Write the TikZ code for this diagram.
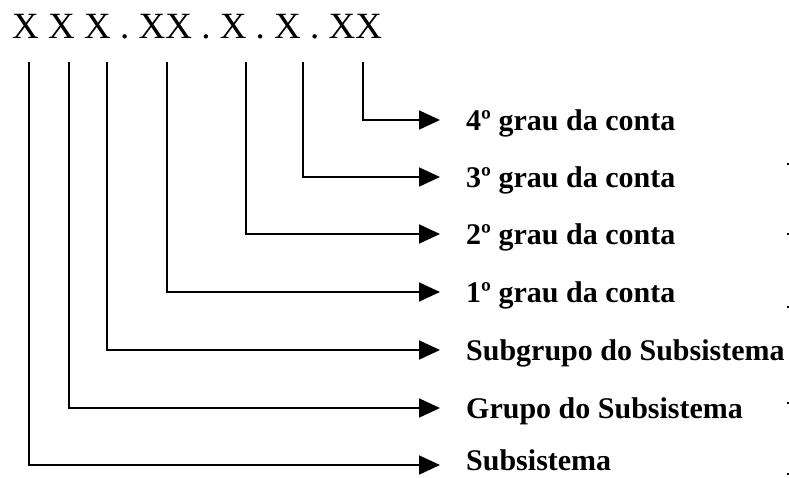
\documentclass[tikz,border=0pt]{standalone}
\usepackage{fontspec}
\setmainfont{Liberation Serif}
\usetikzlibrary{arrows.meta}
\begin{document}
\begin{tikzpicture}[x=1pt,y=-1pt,
  conn/.style={line width=1.8pt,-{Triangle[length=21pt,width=19pt]}},
  lab/.style={anchor=base west,inner sep=0pt,font=\fontsize{30}{32}\selectfont\bfseries},
  code/.style={anchor=base west,inner sep=0pt,font=\fontsize{37}{40}\selectfont}]
\useasboundingbox (0,0) rectangle (789,477);
\node[code] (code) at (12,38) {X X X . XX . X . X . XX};
% tops of the connectors
\coordinate (t1) at (29,62);
\coordinate (t2) at (69,62);
\coordinate (t3) at (107,62);
\coordinate (t4) at (167,62);
\coordinate (t5) at (246,62);
\coordinate (t6) at (303,62);
\coordinate (t7) at (363,62);
% arrow ends
\coordinate (e7) at (440,120);
\coordinate (e6) at (440,177);
\coordinate (e5) at (440,234);
\coordinate (e4) at (440,292);
\coordinate (e3) at (440,350);
\coordinate (e2) at (440,408);
\coordinate (e1) at (440,465);
% labels
\node[lab] (l7) at (466,130.5) {4º grau da conta};
\node[lab] (l6) at (466,187.5) {3º grau da conta};
\node[lab] (l5) at (466,244.5) {2º grau da conta};
\node[lab] (l4) at (466,302.5) {1º grau da conta};
\node[lab] (l3) at (466,360.5) {Subgrupo do Subsistema};
\node[lab] (l2) at (466,418.5) {Grupo do Subsistema};
\node[lab] (l1) at (466,470) {Subsistema};
% connectors
\draw[conn] (t7) |- (e7);
\draw[conn] (t6) |- (e6);
\draw[conn] (t5) |- (e5);
\draw[conn] (t4) |- (e4);
\draw[conn] (t3) |- (e3);
\draw[conn] (t2) |- (e2);
\draw[conn] (t1) |- (e1);
% stray marks at the right edge
\foreach \y in {164,234,307,403,474}
  \fill (786.5,\y-0.8) rectangle (789,\y+0.8);
\end{tikzpicture}
\end{document}
